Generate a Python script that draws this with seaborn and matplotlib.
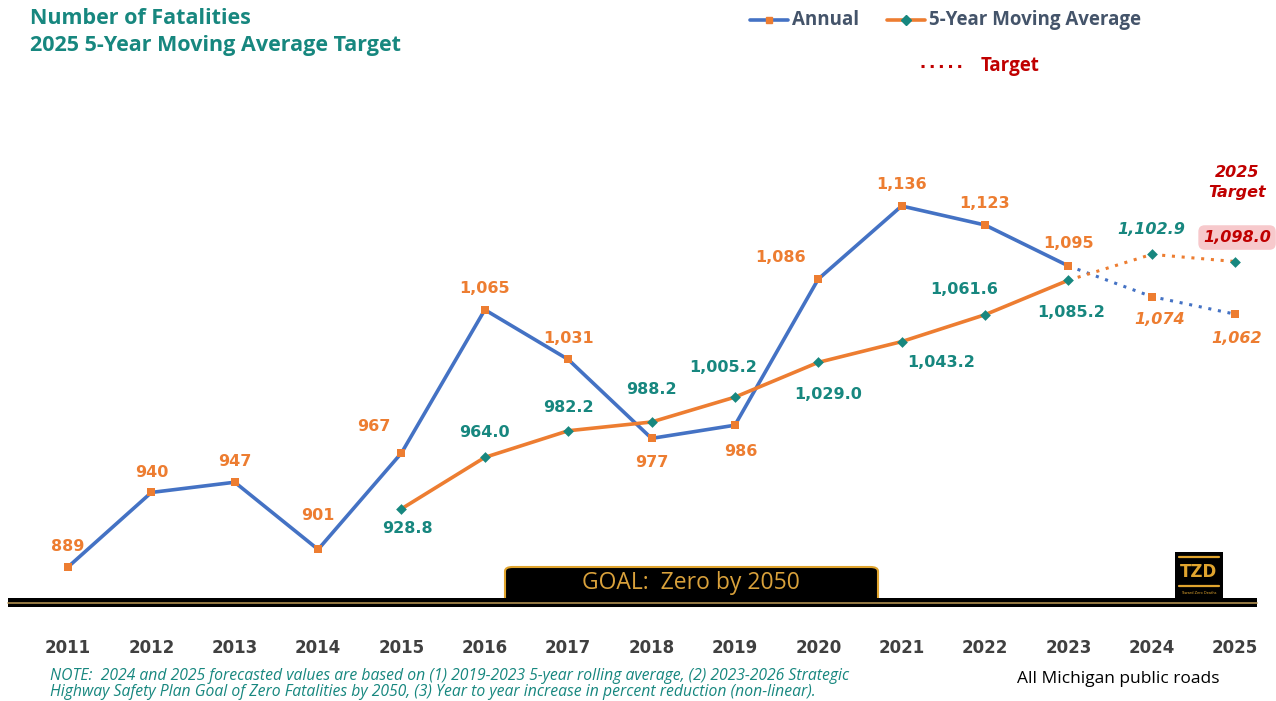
import numpy as np
import pandas as pd
import matplotlib
matplotlib.use("Agg")
import matplotlib.pyplot as plt
import seaborn as sns
from matplotlib.patches import Rectangle, FancyBboxPatch
from matplotlib.lines import Line2D

# data
years = [2011, 2012, 2013, 2014, 2015, 2016, 2017, 2018, 2019, 2020, 2021, 2022, 2023, 2024, 2025]
annual = [889, 940, 947, 901, 967, 1065, 1031, 977, 986, 1086, 1136, 1123, 1095, 1074, 1062]
ma_years = [2015, 2016, 2017, 2018, 2019, 2020, 2021, 2022, 2023, 2024, 2025]
moving_avg = [928.8, 964.0, 982.2, 988.2, 1005.2, 1029.0, 1043.2, 1061.6, 1085.2, 1102.9, 1098.0]
last_actual = 2023

BLUE = "#4472C4"
ORANGE = "#ED7D31"
TEAL = "#17877F"
RED = "#C00000"
GOLD = "#E0A42E"

sns.set_style("white")
W, H = 1276, 701
fig = plt.figure(figsize=(W / 100, H / 100), dpi=100)
ax = fig.add_axes([0, 0, 1, 1])
ax.set_xlim(2010.184, 2025.491)
ax.set_ylim(797.3, 1276.95)
ax.axis("off")

df_a = pd.DataFrame({"year": years, "value": annual})
df_m = pd.DataFrame({"year": ma_years, "value": moving_avg})

# solid parts
sns.lineplot(data=df_a[df_a.year <= last_actual], x="year", y="value", ax=ax,
             color=BLUE, lw=2.6, zorder=2)
sns.lineplot(data=df_m[df_m.year <= last_actual], x="year", y="value", ax=ax,
             color=ORANGE, lw=2.6, zorder=2)
# forecast dotted parts
sns.lineplot(data=df_a[df_a.year >= last_actual], x="year", y="value", ax=ax,
             color=BLUE, lw=2.2, ls=(0, (1, 2.2)), zorder=2)
sns.lineplot(data=df_m[df_m.year >= last_actual], x="year", y="value", ax=ax,
             color=ORANGE, lw=2.2, ls=(0, (1, 2.2)), zorder=2)
# markers
ax.scatter(df_a.year, df_a.value, marker="s", s=26, color=ORANGE, zorder=3, linewidths=0)
ax.scatter(df_m.year, df_m.value, marker="D", s=30, color=TEAL, zorder=3, linewidths=0)

# data labels (offsets in pixels)
a_off = [(0, 20), (0, 20), (0, 21), (0, 34), (-28, 26), (0, 21), (0, 21), (0, -24),
         (6, -26), (-38, 22), (0, 21), (0, 21), (0, 22), (8, -23), (2, -24)]
m_off = [(6, -20), (0, 25), (0, 23), (0, 33), (-12, 30), (10, -32), (39, -21),
         (-21, 25), (3, -32), (0, 25), (2, 24)]

for yr, v, off in zip(years, annual, a_off):
    ax.annotate(f"{v:,}", (yr, v), xytext=off, textcoords="offset pixels",
                ha="center", va="center", color=ORANGE, fontsize=11.5, fontweight="bold",
                style="italic" if yr > last_actual else "normal")
for yr, v, off in zip(ma_years, moving_avg, m_off):
    if yr == 2025:
        ax.annotate(f"{v:,.1f}", (yr, v), xytext=off, textcoords="offset pixels",
                    ha="center", va="center", color=RED, fontsize=11.5, fontweight="bold",
                    style="italic",
                    bbox=dict(boxstyle="round,pad=0.3,rounding_size=0.4", fc="#F7C9CC", ec="none"))
    else:
        ax.annotate(f"{v:,.1f}", (yr, v), xytext=off, textcoords="offset pixels",
                    ha="center", va="center", color=TEAL, fontsize=11.5, fontweight="bold",
                    style="italic" if yr > last_actual else "normal")

ax.annotate("2025\nTarget", (2025, moving_avg[-1]), xytext=(2, 79), textcoords="offset pixels",
            ha="center", va="center", color=RED, fontsize=11.5, fontweight="bold",
            style="italic", linespacing=1.45)

# year labels
for yr in years:
    ax.annotate(str(yr), (yr, 0), xycoords=("data", "figure fraction"), xytext=(0, H - 648),
                textcoords="offset pixels", ha="center", va="center",
                color="#404040", fontsize=12, fontweight="bold")

def fx(px):
    return px / W

def fy(py):
    return 1 - py / H

# goal box (bottom corners hidden under the bar)
fig.add_artist(FancyBboxPatch((fx(505), fy(606)), fx(878) - fx(505), 39 / H,
                              boxstyle="round,pad=0,rounding_size=0.006",
                              transform=fig.transFigure, fc="black", ec=GOLD, lw=1.5, zorder=1))
fig.text(fx(691), fy(583), "GOAL:  Zero by 2050", color="#D9A13B", fontsize=16.5,
         ha="center", va="center", family="Open Sans")

# bottom black bar
fig.add_artist(Rectangle((fx(8), fy(607)), fx(1257) - fx(8), 9 / H, transform=fig.transFigure,
                         fc="black", ec="none", zorder=2))
fig.add_artist(Line2D([fx(8), fx(1257)], [fy(603), fy(603)], transform=fig.transFigure,
                      color="#B09050", lw=1.2, zorder=3))

# TZD logo
fig.add_artist(Rectangle((fx(1175), fy(598)), 48 / W, 46 / H, transform=fig.transFigure,
                         fc="black", ec="none"))
for ly in (557, 586):
    fig.add_artist(Line2D([fx(1179), fx(1219)], [fy(ly), fy(ly)], transform=fig.transFigure,
                          color=GOLD, lw=1.6))
fig.text(fx(1199), fy(572), "TZD", color=GOLD, fontsize=12, fontweight="bold",
         ha="center", va="center")
fig.text(fx(1199), fy(593), "Toward Zero Deaths", color=GOLD, fontsize=2.5,
         ha="center", va="center")

# titles
fig.text(fx(30), fy(19), "Number of Fatalities", color=TEAL, fontsize=15.5, fontweight="bold",
         ha="left", va="center", family="Open Sans")
fig.text(fx(30), fy(46), "2025 5-Year Moving Average Target", color=TEAL, fontsize=15.5,
         fontweight="bold", ha="left", va="center", family="Open Sans")

# legend drawn by hand
lg = "#44546A"
fig.add_artist(Line2D([fx(750), fx(788)], [fy(20), fy(20)], transform=fig.transFigure,
                      color=BLUE, lw=2.6))
fig.add_artist(Line2D([fx(769)], [fy(20)], transform=fig.transFigure, marker="s",
                      ms=5, color=ORANGE, ls="none"))
fig.text(fx(792), fy(20), "Annual", color=lg, fontsize=13.5, fontweight="bold",
         ha="left", va="center", family="Open Sans")
fig.add_artist(Line2D([fx(887), fx(925)], [fy(20), fy(20)], transform=fig.transFigure,
                      color=ORANGE, lw=2.6))
fig.add_artist(Line2D([fx(906)], [fy(20)], transform=fig.transFigure, marker="D",
                      ms=5, color=TEAL, ls="none"))
fig.text(fx(929), fy(20), "5-Year Moving Average", color=lg, fontsize=13.5, fontweight="bold",
         ha="left", va="center", family="Open Sans")
fig.add_artist(Line2D([fx(921), fx(961)], [fy(66), fy(66)], transform=fig.transFigure,
                      color=RED, lw=2.2, ls=(0, (1, 2))))
fig.text(fx(981), fy(66), "Target", color=RED, fontsize=13.5, fontweight="bold",
         ha="left", va="center", family="Open Sans")

# notes
fig.text(fx(50), fy(676), "NOTE:  2024 and 2025 forecasted values are based on (1) 2019-2023 5-year rolling average, (2) 2023-2026 Strategic",
         color=TEAL, fontsize=11.3, style="italic", ha="left", va="center", family="Open Sans")
fig.text(fx(50), fy(692), "Highway Safety Plan Goal of Zero Fatalities by 2050, (3) Year to year increase in percent reduction (non-linear).",
         color=TEAL, fontsize=11.3, style="italic", ha="left", va="center", family="Open Sans")
fig.text(fx(1118), fy(679), "All Michigan public roads", color="black", fontsize=12.5,
         ha="center", va="center", family="Open Sans")

fig.savefig("out.png", dpi=100)
